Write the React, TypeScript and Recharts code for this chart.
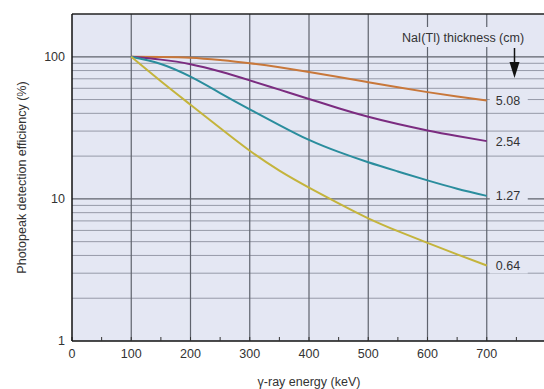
import { LineChart, Line, XAxis, YAxis, CartesianGrid, ReferenceLine } from 'recharts';

const ENERGY = [100, 150, 200, 250, 300, 350, 400, 450, 500, 550, 600, 650, 700];
const T508 = [100, 99.6, 98.5, 94.8, 90, 84.3, 78.2, 72.1, 66.3, 61, 56.4, 52.6, 49.3];
const T254 = [100, 95.5, 88.7, 78.7, 68.2, 58.7, 50.5, 43.4, 37.8, 33.6, 30.3, 27.7, 25.5];
const T127 = [100, 89, 72.4, 55.6, 42.7, 33.1, 26, 21.4, 18.1, 15.6, 13.5, 11.8, 10.5];
const T064 = [100, 67.3, 46, 31.5, 21.8, 15.8, 12, 9.3, 7.3, 5.93, 4.9, 4.07, 3.4];

const X_TICKS = [0, 50, 100, 150, 200, 250, 300, 350, 400, 450, 500, 550, 600, 650, 700, 750, 800];
const X_GRID = [100, 200, 300, 400, 500, 600, 700];
const Y_TICKS = [1, 10, 100];
const Y_MINOR = [2, 3, 4, 5, 6, 7, 8, 9, 20, 30, 40, 50, 60, 70, 80, 90];
const Y_MAJOR = [10, 100];

const data = ENERGY.map((e, i) => ({
  energy: e,
  t508: T508[i],
  t254: T254[i],
  t127: T127[i],
  t064: T064[i],
}));

const BG = '#e4e7f3';
const FONT = '"Liberation Sans", Arial, sans-serif';
const FS = 12.5;

// label drawn next to the last point of each curve
const endLabel = (text: string) => (props: any) => {
  const { x, y, index } = props;
  if (index !== ENERGY.length - 1) return null;
  return (
    <g>
      <rect x={x + 3} y={y - 8} width={38} height={16} fill={BG} />
      <text x={x + 9} y={y + 4.5} fontSize={FS} fill="#333" fontFamily={FONT}>
        {text}
      </text>
    </g>
  );
};

export default function App() {
  return (
    <div style={{ position: 'fixed', left: 0, top: 0, width: 544, height: 389, overflow: 'hidden', background: '#fff' }}>
      <LineChart width={548} height={389} data={data} margin={{ top: 14, right: 2, bottom: 0, left: 0 }}>
        <CartesianGrid fill={BG} vertical={false} horizontal={false} />
        {Y_MINOR.map((v) => (
          <ReferenceLine key={`ym-${v}`} y={v} stroke="#969aa8" strokeWidth={1} />
        ))}
        {Y_MAJOR.map((v) => (
          <ReferenceLine key={`yM-${v}`} y={v} stroke="#5f636d" strokeWidth={1.2} />
        ))}
        {X_GRID.map((v) => (
          <ReferenceLine key={`x-${v}`} x={v} stroke="#5f636d" strokeWidth={1.2} />
        ))}
        <ReferenceLine y={200} stroke="#222" strokeWidth={1.5} />
        <XAxis
          dataKey="energy"
          type="number"
          domain={[0, 800]}
          ticks={X_TICKS}
          interval={0}
          height={48}
          tickSize={-4}
          tickMargin={12}
          tickLine={{ stroke: '#333' }}
          axisLine={{ stroke: '#111', strokeWidth: 1.5 }}
          tickFormatter={(v: number) => (v % 100 === 0 && v <= 700 ? String(v) : '')}
          tick={{ fontSize: FS, fill: '#333', fontFamily: FONT }}
          label={{ value: 'γ-ray energy (keV)', position: 'insideBottom', offset: 3, fontSize: FS, fill: '#333', fontFamily: FONT }}
        />
        <YAxis
          scale="log"
          domain={[1, 200]}
          ticks={Y_TICKS}
          allowDataOverflow
          width={72}
          tickSize={0}
          tickMargin={7}
          tickLine={false}
          axisLine={{ stroke: '#111', strokeWidth: 1.5 }}
          tick={{ fontSize: FS, fill: '#333', fontFamily: FONT }}
          label={{ value: 'Photopeak detection efficiency (%)', angle: -90, position: 'center', dx: -14, fontSize: FS, fill: '#333', fontFamily: FONT }}
        />
        <Line dataKey="t508" type="natural" stroke="#c8773a" strokeWidth={2} dot={false} isAnimationActive={false} label={endLabel('5.08')} />
        <Line dataKey="t254" type="natural" stroke="#7b2c80" strokeWidth={2} dot={false} isAnimationActive={false} label={endLabel('2.54')} />
        <Line dataKey="t127" type="natural" stroke="#2a8d9d" strokeWidth={2} dot={false} isAnimationActive={false} label={endLabel('1.27')} />
        <Line dataKey="t064" type="natural" stroke="#c4b43c" strokeWidth={2} dot={false} isAnimationActive={false} label={endLabel('0.64')} />
      </LineChart>
      <svg width={544} height={389} style={{ position: 'absolute', left: 0, top: 0, pointerEvents: 'none' }}>
        <rect x={394} y={27} width={138} height={20} fill={BG} />
        <text x={463} y={42} textAnchor="middle" fontSize={FS} fill="#333" fontFamily={FONT}>
          NaI(Tl) thickness (cm)
        </text>
        <line x1={514.5} y1={48} x2={514.5} y2={64} stroke="#111" strokeWidth={1.5} />
        <polygon points="509.5,62 519.5,62 514.5,78" fill="#111" />
      </svg>
    </div>
  );
}
